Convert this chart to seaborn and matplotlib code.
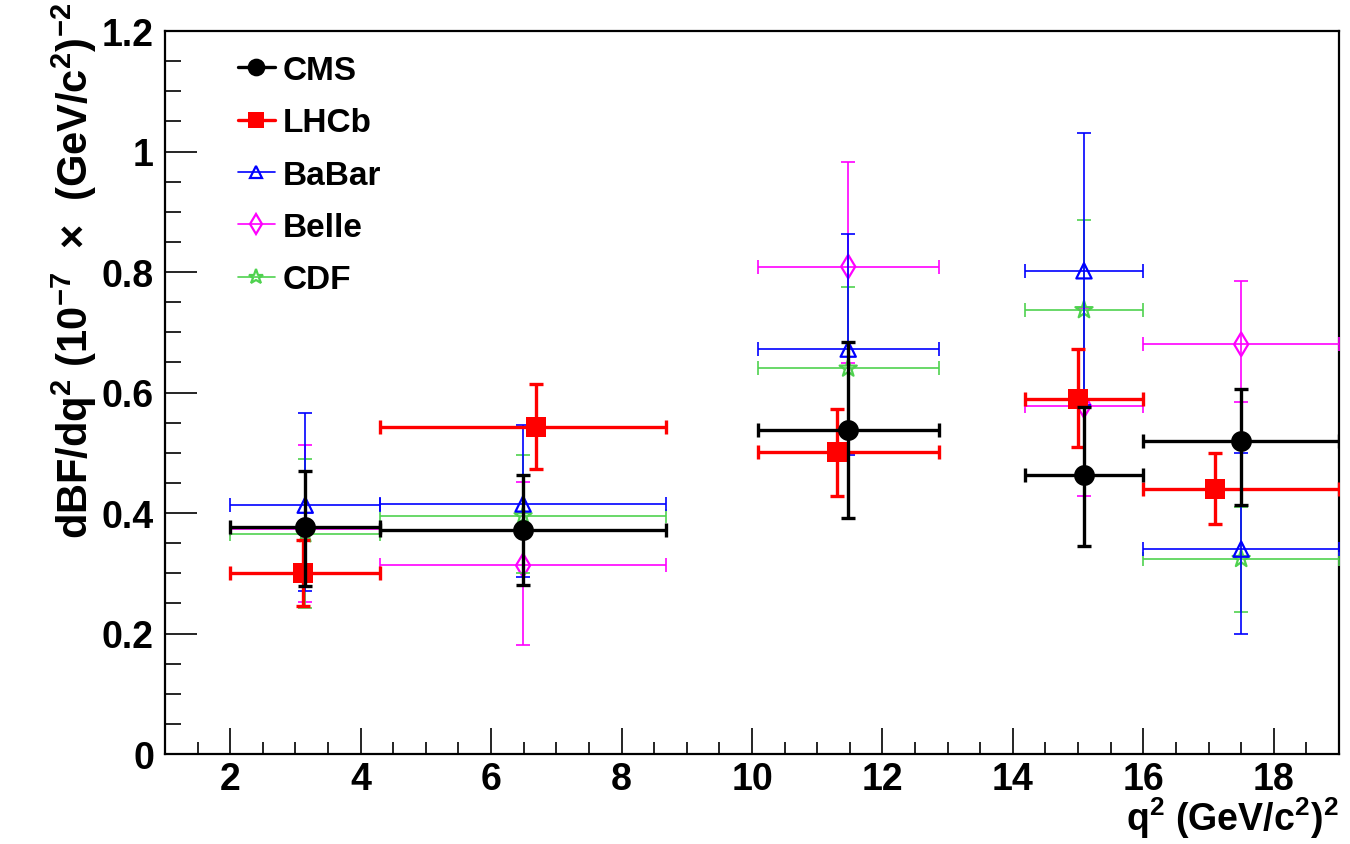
import numpy as np
import pandas as pd
import matplotlib
matplotlib.use("Agg")
import matplotlib.pyplot as plt
import seaborn as sns
from matplotlib.lines import Line2D
from matplotlib.ticker import MultipleLocator, FuncFormatter

# ---------------- data ----------------
bin_lo = [2.0, 4.3, 10.09, 14.18, 16.0]
bin_hi = [4.3, 8.68, 12.86, 16.0, 19.0]

cms_x = [3.15, 6.49, 11.475, 15.09, 17.5]
cms_y = [0.377, 0.372, 0.538, 0.463, 0.520]
cms_hi = [0.469, 0.463, 0.684, 0.576, 0.605]
cms_lo = [0.279, 0.280, 0.391, 0.346, 0.414]

lhcb_x = [3.11, 6.69, 11.30, 15.00, 17.10]
lhcb_y = [0.300, 0.543, 0.501, 0.590, 0.440]
lhcb_hi = [0.355, 0.614, 0.573, 0.672, 0.500]
lhcb_lo = [0.246, 0.473, 0.428, 0.510, 0.382]

babar_x = [3.15, 6.49, 11.475, 15.09, 17.5]
babar_y = [0.413, 0.415, 0.672, 0.802, 0.340]
babar_hi = [0.566, 0.546, 0.863, 1.031, 0.499]
babar_lo = [0.270, 0.294, 0.496, 0.580, 0.199]

belle_x = [3.15, 6.49, 11.475, 15.09, 17.5]
belle_y = [0.373, 0.313, 0.809, 0.578, 0.680]
belle_hi = [0.513, 0.452, 0.982, 0.740, 0.785]
belle_lo = [0.253, 0.181, 0.649, 0.428, 0.585]

cdf_x = [3.15, 6.49, 11.475, 15.09, 17.5]
cdf_y = [0.365, 0.395, 0.640, 0.737, 0.324]
cdf_hi = [0.489, 0.496, 0.775, 0.887, 0.410]
cdf_lo = [0.242, 0.300, 0.500, 0.590, 0.235]

x_ticks = [2, 4, 6, 8, 10, 12, 14, 16, 18]
y_ticks = [0, 0.2, 0.4, 0.6, 0.8, 1.0, 1.2]

experiments = ["CMS", "LHCb", "BaBar", "Belle", "CDF"]
series = {
    "CMS": (cms_x, cms_y, cms_lo, cms_hi),
    "LHCb": (lhcb_x, lhcb_y, lhcb_lo, lhcb_hi),
    "BaBar": (babar_x, babar_y, babar_lo, babar_hi),
    "Belle": (belle_x, belle_y, belle_lo, belle_hi),
    "CDF": (cdf_x, cdf_y, cdf_lo, cdf_hi),
}

rows = []
for name in experiments:
    xs, ys, los, his = series[name]
    for i in range(len(xs)):
        rows.append(dict(exp=name, q2=xs[i], val=ys[i], lo=los[i], hi=his[i],
                         blo=bin_lo[i], bhi=bin_hi[i]))
df = pd.DataFrame(rows)

# ---------------- styles ----------------
green = "#4fd24f"
styles = {
    "CMS": dict(color="black", marker="o", ms=15, lw=2.4, filled=True, z=10, cap=5),
    "LHCb": dict(color="#ff0000", marker="s", ms=14, lw=2.4, filled=True, z=9, cap=5),
    "BaBar": dict(color="#0000ff", marker="^", ms=11, lw=1.2, filled=False, z=8, cap=5),
    "CDF": dict(color=green, marker="*", ms=13, lw=1.2, filled=False, z=6, cap=5),
    "Belle": dict(color="#ff00ff", marker="d", ms=12, lw=1.2, filled=False, z=5, cap=5),
}

sns.set_theme(style="ticks")
plt.rcParams["font.family"] = ["Liberation Sans", "DejaVu Sans"]
plt.rcParams["font.weight"] = "bold"
plt.rcParams["text.color"] = "black"
plt.rcParams["axes.labelcolor"] = "black"
plt.rcParams["xtick.color"] = "black"
plt.rcParams["ytick.color"] = "black"
plt.rcParams["xtick.labelcolor"] = "black"
plt.rcParams["ytick.labelcolor"] = "black"
plt.rcParams["mathtext.fontset"] = "custom"
plt.rcParams["mathtext.rm"] = "Liberation Sans:bold"
plt.rcParams["mathtext.it"] = "Liberation Sans:bold"
plt.rcParams["mathtext.bf"] = "Liberation Sans:bold"
plt.rcParams["mathtext.sf"] = "Liberation Sans"
plt.rcParams["mathtext.default"] = "rm"

fig = plt.figure(figsize=(13.5, 8.45), dpi=100)
W, H = 1350, 845
ax = fig.add_axes([165 / W, (H - 755) / H, (1339 - 165) / W, (755 - 32) / H])

for name in ["Belle", "CDF", "BaBar", "LHCb", "CMS"]:
    st = styles[name]
    d = df[df["exp"] == name]
    xerr = np.array([d["q2"] - d["blo"], d["bhi"] - d["q2"]])
    yerr = np.array([d["val"] - d["lo"], d["hi"] - d["val"]])
    ax.errorbar(d["q2"], d["val"], xerr=xerr, yerr=yerr, fmt="none",
                ecolor=st["color"], elinewidth=st["lw"], capsize=st["cap"],
                capthick=st["lw"], zorder=st["z"])
    sns.scatterplot(data=d, x="q2", y="val", ax=ax, marker=st["marker"],
                    s=st["ms"] ** 2,
                    facecolor=st["color"] if st["filled"] else "none",
                    edgecolor=st["color"],
                    linewidth=0 if st["filled"] else 1.6,
                    zorder=st["z"] + 0.5, legend=False)

ax.set_xlim(1, 19)
ax.set_ylim(0, 1.2)
ax.set_xticks(x_ticks)
ax.set_yticks(y_ticks)
ax.xaxis.set_minor_locator(MultipleLocator(0.5))
ax.yaxis.set_minor_locator(MultipleLocator(0.05))
ax.yaxis.set_major_formatter(FuncFormatter(lambda v, p: f"{v:g}"))
ax.xaxis.set_major_formatter(FuncFormatter(lambda v, p: f"{v:g}"))

for sp in ax.spines.values():
    sp.set_linewidth(1.6)
    sp.set_color("black")
    sp.set_visible(True)

ax.tick_params(axis="both", which="both", direction="in", top=False, right=False,
               width=1.2, color="black", labelcolor="black", labelsize=27)
ax.tick_params(axis="x", which="major", length=19, pad=5)
ax.tick_params(axis="x", which="minor", length=9)
ax.tick_params(axis="y", which="major", length=23, pad=8)
ax.tick_params(axis="y", which="minor", length=11.5)
for lab in ax.get_xticklabels() + ax.get_yticklabels():
    lab.set_fontweight("bold")

ax.set_xlabel(r"q$^{2}$ (GeV/c$^{2}$)$^{2}$", fontsize=27, fontweight="bold",
              loc="right", color="black")
ax.xaxis.set_label_coords(1.0, -0.088)
ax.xaxis.label.set_verticalalignment("center")

ax.set_ylabel(r"dBF/dq$^{2}$ (10$^{-7}$  $\mathsf{×}$  (GeV/c$^{2}$)$^{-2}$", fontsize=30,
              fontweight="bold", loc="top", color="black")
ax.yaxis.set_label_coords(-0.077, 1.04)
ax.yaxis.label.set_verticalalignment("center")

handles = []
for name in experiments:
    st = styles[name]
    handles.append(Line2D([], [], color=st["color"], lw=st["lw"], marker=st["marker"],
                          markersize=st["ms"] * 0.85,
                          markerfacecolor=st["color"] if st["filled"] else "none",
                          markeredgecolor=st["color"],
                          markeredgewidth=0 if st["filled"] else 1.6))
ax.legend(handles, experiments, loc="upper left",
          bbox_to_anchor=((238 - 165) / 1174, (755 - 56) / 723),
          frameon=False, prop=dict(weight="bold", size=24), handlelength=1.1,
          handletextpad=0.25, labelspacing=0.64, borderpad=0, borderaxespad=0)

fig.savefig("out.png", dpi=100)
